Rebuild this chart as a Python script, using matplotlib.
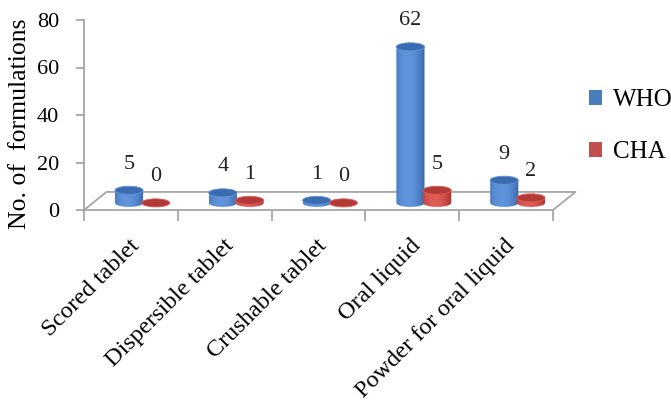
import numpy as np
import matplotlib
matplotlib.use("Agg")
import matplotlib.pyplot as plt
from matplotlib.patches import Ellipse, Polygon, Patch
from matplotlib.transforms import blended_transform_factory

plt.rcParams['font.family'] = ['Liberation Serif', 'DejaVu Serif']

categories = ['Scored tablet', 'Dispersible tablet', 'Crushable tablet',
              'Oral liquid', 'Powder for oral liquid']
series_names = ['WHO', 'CHA']
who_values = [5, 4, 1, 62, 9]
cha_values = [0, 1, 0, 5, 2]
y_ticks = [0, 20, 40, 60, 80]

# fake 3d settings (in data units)
depth_dx, depth_dy = 0.24, 7.6
base = 3.0
persp = 1.06
bar_w = 0.30
ell_h = 3.4
offsets = [-0.02, 0.265]
dark = [np.array([0.20, 0.38, 0.64]), np.array([0.60, 0.16, 0.15])]
light = [np.array([0.38, 0.58, 0.86]), np.array([0.88, 0.36, 0.34])]
top_col = ['#3b6cb0', '#b23b38']
legend_col = ['#4a7ebb', '#c0504d']
grid_col = '#a6a6a6'

fig = plt.figure(figsize=(6.71, 4.03), dpi=100)
ax = fig.add_axes([84 / 671, 193 / 403, 469 / 671, 190 / 403])
ax.set_xlim(-0.5, 4.5)
ax.set_ylim(0, 80)

for s in ['top', 'right']:
    ax.spines[s].set_visible(False)
for s in ['left', 'bottom']:
    ax.spines[s].set_color(grid_col)
    ax.spines[s].set_linewidth(1.3)

# floor of the 3d plot
n = len(categories)
fx = [-0.5, -0.5 + depth_dx, n - 0.5 + depth_dx, n - 0.5]
fy = [0, depth_dy, depth_dy, 0]
ax.plot(fx, fy, color=grid_col, lw=1.3, clip_on=False, zorder=1)

t = np.linspace(0, 1, 60)
prof = np.clip(np.sin(np.pi * (0.15 + 0.85 * t)) ** 0.7, 0, 1)

for si, vals in enumerate([who_values, cha_values]):
    for i, v in enumerate(vals):
        xc = i + offsets[si]
        top = base + v * persp
        x0, x1 = xc - bar_w / 2, xc + bar_w / 2
        if v > 0:
            ang = np.linspace(np.pi, 2 * np.pi, 40)
            arc_x = xc + bar_w / 2 * np.cos(ang)
            arc_y = base + ell_h / 2 * np.sin(ang)
            pts = [(x0, top)] + list(zip(arc_x, arc_y)) + [(x1, top)]
            body = Polygon(pts, closed=True, facecolor='none', edgecolor='none')
            ax.add_patch(body)
            grad = dark[si][None, :] + (light[si] - dark[si])[None, :] * prof[:, None]
            im = ax.imshow(grad[None, :, :], extent=(x0, x1, base - ell_h / 2, top),
                           aspect='auto', zorder=3, interpolation='bilinear')
            im.set_clip_path(body)
        ax.add_patch(Ellipse((xc, top), bar_w, ell_h, facecolor=top_col[si],
                             edgecolor=light[si], lw=0.6, zorder=4))
        ax.text(xc, top + 11, str(v), ha='center', va='center', fontsize=16,
                color='#222222', zorder=5)

ax.set_xlim(-0.5, 4.5)
ax.set_ylim(0, 80)

ax.set_yticks(y_ticks)
ax.set_yticklabels([str(v) for v in y_ticks], fontsize=16)
ax.tick_params(axis='y', length=6, width=1.3, color=grid_col, pad=12)
ax.set_xticks(np.arange(-0.5, n, 1.0))
ax.set_xticklabels([])
ax.tick_params(axis='x', length=8, width=1.3, color=grid_col)

trans = blended_transform_factory(ax.transData, ax.transAxes)
for i, c in enumerate(categories):
    ax.text(i + 0.06, -0.17, c, transform=trans, rotation=45,
            rotation_mode='anchor', ha='right', va='center', fontsize=17.5)

ax.set_ylabel('No. of  formulations', fontsize=18.5)
ax.yaxis.set_label_coords(-0.112, 0.453)

handles = [Patch(facecolor=legend_col[k], edgecolor='none') for k in range(2)]
fig.legend(handles, series_names, loc='upper left', bbox_to_anchor=(589 / 671, 0.778),
           frameon=False, fontsize=18, borderpad=0, borderaxespad=0,
           handlelength=0.5, handleheight=0.5, handletextpad=0.45, labelspacing=1.2)

fig.savefig('out.png', dpi=100)
